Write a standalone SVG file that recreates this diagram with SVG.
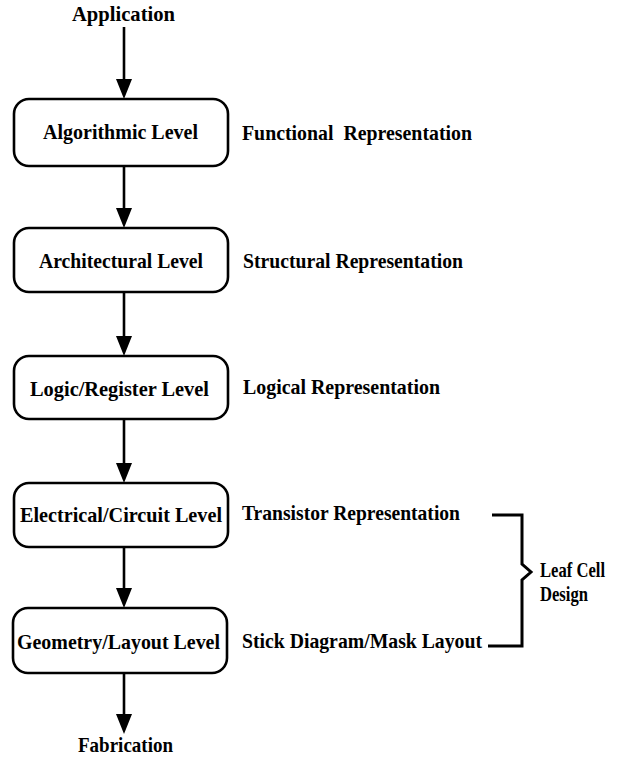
<svg xmlns="http://www.w3.org/2000/svg" width="627" height="761" viewBox="0 0 627 761">
  <style>
    text { font-family: "Liberation Serif", "Times New Roman", serif; font-size: 21px; font-weight: bold; fill: #000; }
    .box { fill: #fff; stroke: #000; stroke-width: 2.6; }
    .shaft { fill: none; stroke: #000; stroke-width: 2.6; }
    .brace { fill: none; stroke: #000; stroke-width: 3; stroke-linejoin: miter; }
  </style>
  <defs>
    <!-- downward arrowhead, tip at (0,0) -->
    <path id="tip" d="M-8 -20 L8 -20 L0 0 Z" fill="#000"/>
  </defs>
  <rect width="627" height="761" fill="#fff"/>

  <!-- vertical flow between levels -->
  <g id="connectors">
    <line class="shaft" x1="124" y1="27" x2="124" y2="82"/>
    <use href="#tip" x="124" y="99"/>
    <line class="shaft" x1="124" y1="166" x2="124" y2="210"/>
    <use href="#tip" x="124" y="228"/>
    <line class="shaft" x1="124" y1="292" x2="124" y2="338"/>
    <use href="#tip" x="124" y="356"/>
    <line class="shaft" x1="124" y1="419" x2="124" y2="465"/>
    <use href="#tip" x="124" y="483"/>
    <line class="shaft" x1="124" y1="547" x2="124" y2="590"/>
    <use href="#tip" x="124" y="608"/>
    <line class="shaft" x1="124" y1="673" x2="124" y2="716"/>
    <use href="#tip" x="124" y="734"/>
    <!-- brace grouping the two lowest representations -->
    <path class="brace" d="M492 515 H522 V564 L531 572 L522 580 V646 H488"/>
  </g>

  <g id="application"><text x="72" y="21" textLength="103" lengthAdjust="spacingAndGlyphs">Application</text></g>

  <g id="algorithmic">
    <rect class="box" x="14" y="99" width="214" height="67" rx="15"/>
    <text x="43" y="139" textLength="155" lengthAdjust="spacingAndGlyphs">Algorithmic Level</text>
  </g>
  <g id="architectural">
    <rect class="box" x="14" y="228" width="214" height="64" rx="15"/>
    <text x="39" y="268" textLength="164" lengthAdjust="spacingAndGlyphs">Architectural Level</text>
  </g>
  <g id="logic">
    <rect class="box" x="14" y="356" width="214" height="63" rx="15"/>
    <text x="30" y="396" textLength="179" lengthAdjust="spacingAndGlyphs">Logic/Register Level</text>
  </g>
  <g id="electrical">
    <rect class="box" x="14" y="483" width="214" height="64" rx="15"/>
    <text x="20" y="522" textLength="202" lengthAdjust="spacingAndGlyphs">Electrical/Circuit Level</text>
  </g>
  <g id="geometry">
    <rect class="box" x="13" y="608" width="214" height="65" rx="15"/>
    <text x="17" y="649" textLength="203" lengthAdjust="spacingAndGlyphs">Geometry/Layout Level</text>
  </g>

  <g id="fabrication"><text x="78" y="752" textLength="95" lengthAdjust="spacingAndGlyphs">Fabrication</text></g>

  <g id="representations">
    <text x="242" y="140" textLength="230" lengthAdjust="spacingAndGlyphs" xml:space="preserve">Functional  Representation</text>
    <text x="243" y="268" textLength="220" lengthAdjust="spacingAndGlyphs">Structural Representation</text>
    <text x="243" y="394" textLength="197" lengthAdjust="spacingAndGlyphs">Logical Representation</text>
    <text x="242" y="520" textLength="218" lengthAdjust="spacingAndGlyphs">Transistor Representation</text>
    <text x="242" y="648" textLength="240" lengthAdjust="spacingAndGlyphs">Stick Diagram/Mask Layout</text>
  </g>

  <g id="leaf-cell">
    <text x="540" y="577" textLength="65" lengthAdjust="spacingAndGlyphs">Leaf Cell</text>
    <text x="540" y="601" textLength="48" lengthAdjust="spacingAndGlyphs">Design</text>
  </g>
</svg>
